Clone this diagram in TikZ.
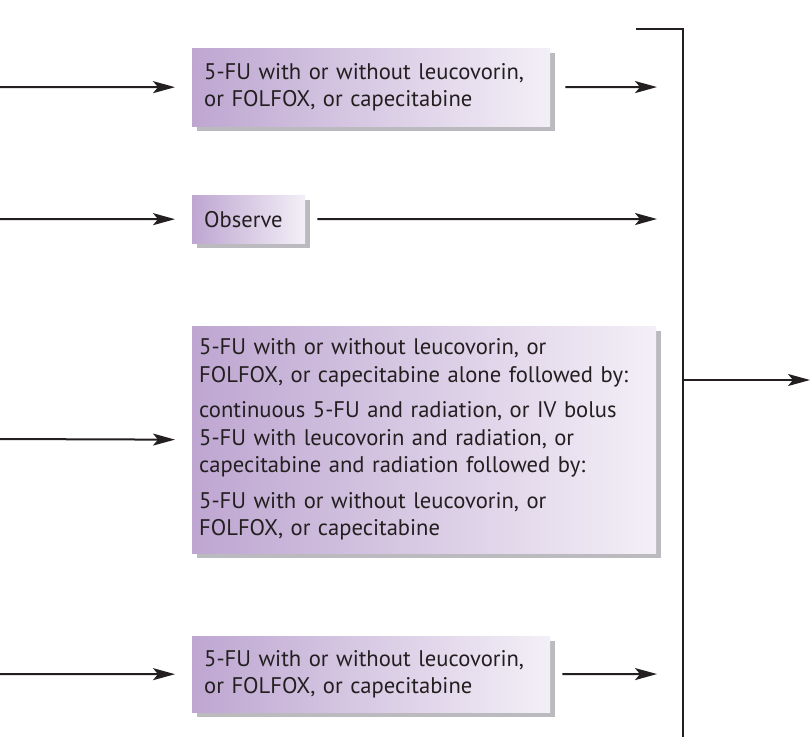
\documentclass[tikz,border=0pt]{standalone}
\usepackage{fontspec}
\setmainfont{PT Sans}
\usetikzlibrary{arrows.meta,shadows,calc}

\definecolor{boxL}{RGB}{190,166,209}
\definecolor{boxR}{RGB}{243,239,247}
\definecolor{shadowgray}{RGB}{186,186,191}
\definecolor{ink}{RGB}{35,31,32}

\newcommand{\boxfont}{\fontsize{22.6}{27.5}\selectfont}

\tikzset{
  box/.style={left color=boxL, right color=boxR, text=ink, align=left,
    anchor=north west, inner xsep=12pt, inner ysep=0pt, font=\boxfont,
    general shadow={fill=shadowgray, shadow xshift=5pt, shadow yshift=-5pt}},
  flow/.style={draw=ink, line width=2pt,
    -{Stealth[length=22pt,width=12pt,inset=5pt]}},
  bus/.style={draw=ink, line width=2pt},
}

\begin{document}
\begin{tikzpicture}[x=1pt,y=-1pt]
\fill[white] (0,0) rectangle (811,737);
\useasboundingbox (0,0) rectangle (811,737);

% treatment boxes
\node[box, text width=334pt, minimum height=78pt] (b1) at (192,48)
  {5-FU with or without leucovorin,\\or FOLFOX, or capecitabine};
\node[box, text width=89pt, minimum height=48pt] (b2) at (192,195)
  {Observe};
\node[box, inner xsep=7pt, text width=450pt, minimum height=227pt] (b3) at (192,326)
  {5-FU with or without leucovorin, or\\
   FOLFOX, or capecitabine alone followed by:\\[8pt]
   continuous 5-FU and radiation, or IV bolus\\
   5-FU with leucovorin and radiation, or\\
   capecitabine and radiation followed by:\\[8pt]
   5-FU with or without leucovorin, or\\
   FOLFOX, or capecitabine};
\node[box, text width=334pt, minimum height=76pt] (b4) at (192,636)
  {5-FU with or without leucovorin,\\or FOLFOX, or capecitabine};

% incoming branches
\coordinate (in1) at (0,87);
\coordinate (in2) at (0,219);
\coordinate (in3) at (0,439);
\coordinate (in4) at (0,674);
\draw[flow, shorten >=17pt] (in1) -- (b1.west);
\draw[flow, shorten >=17pt] (in2) -- (b2.west);
\draw[flow, shorten >=17pt] (in3) -- (b3.west);
\draw[flow, shorten >=17pt] (in4) -- (b4.west);

% collecting bus
\coordinate (busStart) at (636,29);
\coordinate (busTop) at (683,29);
\coordinate (busBot) at (683,737);
\draw[bus] (busStart) -- (busTop) -- (busBot);

\coordinate (j1) at (683,87);
\coordinate (j2) at (683,219);
\coordinate (j4) at (683,674);
\draw[flow, shorten <=15pt, shorten >=26pt] (b1.east) -- (j1);
\draw[flow, shorten <=12pt, shorten >=26pt] (b2.east) -- (j2);
\draw[flow, shorten <=12pt, shorten >=26pt] (b4.east) -- (j4);

% outgoing branch
\coordinate (busOut) at (683,380);
\coordinate (out) at (810,380);
\draw[flow] (busOut) -- (out);
\end{tikzpicture}
\end{document}
